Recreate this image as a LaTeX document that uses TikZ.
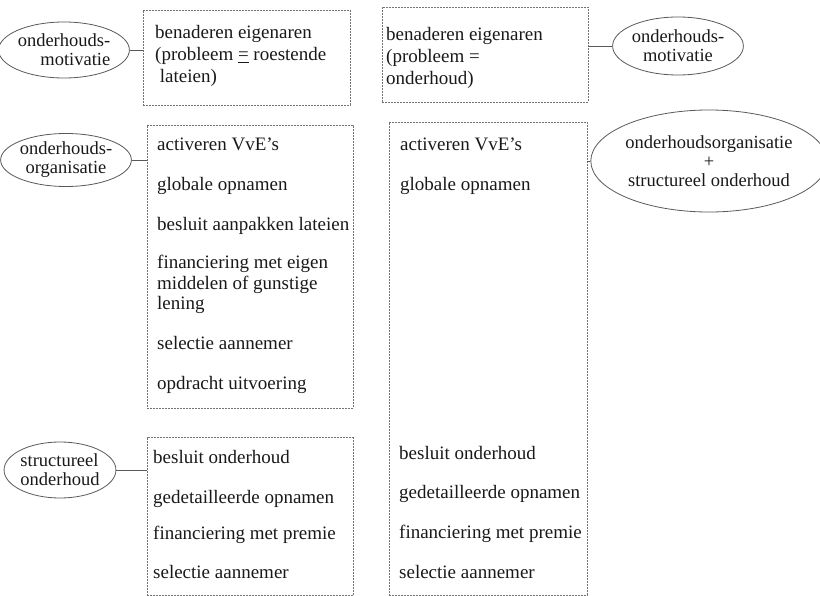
\documentclass[tikz,border=0pt]{standalone}
\usepackage{fontspec}
\setmainfont{Liberation Serif}
\usetikzlibrary{shapes.geometric}

\tikzset{
  kader/.style={draw=black!55, dash pattern=on 2pt off 1pt, line width=0.6pt, rectangle, inner sep=0pt},
  doel/.style={draw=black!65, ellipse, line width=0.8pt, inner sep=0pt, text=black!90, font=\fontsize{18.5}{19}\selectfont},
  item/.style={anchor=base west, align=left, inner sep=0pt, text=black!90, font=\fontsize{19}{20}\selectfont},
  lijn/.style={draw=black!65, line width=0.8pt}
}

\begin{document}
\begin{tikzpicture}[x=1pt,y=-1pt]
\useasboundingbox (0,0) rectangle (820,596);

% linker kolom
\node[kader, minimum width=207pt, minimum height=95pt] (kader1) at (246.5,57.5) {};
\node[kader, minimum width=206pt, minimum height=283pt] (kader3) at (250,266.5) {};
\node[kader, minimum width=206pt, minimum height=158pt] (kader5) at (250,516.5) {};

\node[doel, minimum width=122pt, minimum height=56pt, align=right] (motivatie1) at (64,50) {onderhouds-\\motivatie};
\node[doel, minimum width=122pt, minimum height=53pt, align=center] (organisatie1) at (66,160) {onderhouds-\\organisatie};
\node[doel, minimum width=110pt, minimum height=56pt, align=left] (structureel1) at (60,470) {structureel\\onderhoud};

\draw[lijn] (motivatie1.east) -- (motivatie1.east -| kader1.west);
\draw[lijn] (organisatie1.east) -- (organisatie1.east -| kader3.west);
\draw[lijn] (structureel1.east) -- (structureel1.east -| kader5.west);

% base van een node met meer regels = laatste regel
\node[item, font=\fontsize{19}{22}\selectfont] (l1) at (155,83) {benaderen eigenaren\\(probleem \underline{=} roestende\\\ lateien)};

\node[item] (l2) at (157,151) {activeren VvE's};
\node[item] (l3) at (157,191) {globale opnamen};
\node[item] (l4) at (157,231) {besluit aanpakken lateien};
\node[item] (l5) at (157,309) {financiering met eigen\\middelen of gunstige\\lening};
\node[item] (l6) at (157,349) {selectie aannemer};
\node[item] (l7) at (157,389) {opdracht uitvoering};

\node[item] (l8) at (153,463) {besluit onderhoud};
\node[item] (l9) at (153,503) {gedetailleerde opnamen};
\node[item] (l10) at (153,539) {financiering met premie};
\node[item] (l11) at (153,578) {selectie aannemer};

% rechter kolom
\node[kader, minimum width=206pt, minimum height=95pt] (kader2) at (485,54.5) {};
\node[kader, minimum width=198pt, minimum height=473pt] (kader4) at (488,358.5) {};

\node[doel, minimum width=123pt, minimum height=58pt, align=center] (motivatie2) at (678,46) {onderhouds-\\motivatie};
\node[doel, minimum width=221pt, minimum height=102pt, align=center] (organisatie2) at (709,161) {onderhoudsorganisatie\\+\\structureel onderhoud};

\draw[lijn] (motivatie2.west) -- (motivatie2.west -| kader2.east);
\draw[lijn] (organisatie2.west) -- (organisatie2.west -| kader4.east);

\node[item, font=\fontsize{19}{22}\selectfont] (r1) at (386,85) {benaderen eigenaren\\(probleem =\\onderhoud)};

\node[item] (r2) at (400,151) {activeren VvE's};
\node[item] (r3) at (400,191) {globale opnamen};

\node[item] (r4) at (399,459) {besluit onderhoud};
\node[item] (r5) at (399,498) {gedetailleerde opnamen};
\node[item] (r6) at (399,538) {financiering met premie};
\node[item] (r7) at (399,578) {selectie aannemer};
\end{tikzpicture}
\end{document}
